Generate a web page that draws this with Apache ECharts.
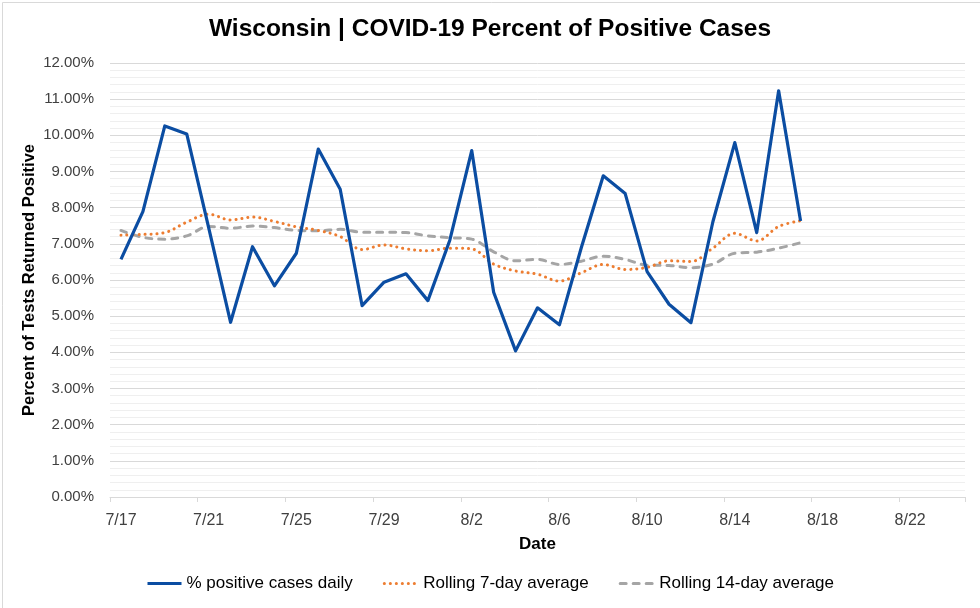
<!DOCTYPE html>
<html>
<head>
<meta charset="utf-8">
<script src="https://cdn.jsdelivr.net/npm/echarts@6/dist/echarts.min.js"></script>
<style>
html,body{margin:0;padding:0;background:#fff;}
#chart{width:980px;height:608px;}
</style>
</head>
<body>
<div id="chart"></div>
<script>
const dates = ['7/17','7/18','7/19','7/20','7/21','7/22','7/23','7/24','7/25','7/26','7/27','7/28','7/29','7/30','7/31',
  '8/1','8/2','8/3','8/4','8/5','8/6','8/7','8/8','8/9','8/10','8/11','8/12','8/13','8/14','8/15','8/16','8/17','8/18','8/19','8/20','8/21','8/22','8/23','8/24'];
const dailyPct = [6.57, 7.89, 10.26, 10.04, 7.45, 4.83, 6.92, 5.84, 6.74, 9.62, 8.51, 5.29, 5.94, 6.17, 5.43, 7.10,
  9.58, 5.66, 4.04, 5.23, 4.76, 6.90, 8.88, 8.39, 6.23, 5.33, 4.82, 7.61, 9.80, 7.31, 11.23, 7.63];
const rolling7 = [7.24, 7.26, 7.31, 7.60, 7.82, 7.66, 7.74, 7.62, 7.47, 7.37, 7.20, 6.84, 6.97, 6.86, 6.81, 6.88,
  6.86, 6.44, 6.25, 6.16, 5.97, 6.20, 6.43, 6.29, 6.35, 6.53, 6.51, 6.88, 7.29, 7.08, 7.48, 7.64];
const rolling14 = [7.37, 7.18, 7.13, 7.22, 7.48, 7.43, 7.49, 7.45, 7.37, 7.36, 7.40, 7.32, 7.32, 7.31, 7.22, 7.17,
  7.13, 6.78, 6.53, 6.57, 6.43, 6.52, 6.66, 6.57, 6.41, 6.40, 6.34, 6.44, 6.74, 6.77, 6.88, 7.03];
const seriesNames = ['% positive cases daily', 'Rolling 7-day average', 'Rolling 14-day average'];

const FONT = '"Liberation Sans", Arial, sans-serif';
const chart = echarts.init(document.getElementById('chart'), null, {renderer: 'canvas'});
chart.setOption({
  animation: false,
  backgroundColor: '#ffffff',
  graphic: [{
    type: 'rect', left: 0, top: 0, silent: true,
    shape: {x: 0.5, y: 0.5, width: 979, height: 607},
    style: {fill: 'none', stroke: '#D9D9D9', lineWidth: 1}
  }],
  title: {
    text: 'Wisconsin | COVID-19 Percent of Positive Cases',
    left: 'center', top: 12,
    textStyle: {fontFamily: FONT, fontSize: 24.5, fontWeight: 'bold', color: '#000'}
  },
  legend: {
    data: seriesNames,
    left: 'center', top: 570,
    itemWidth: 34, itemHeight: 14, itemGap: 30,
    itemStyle: {opacity: 0},
    lineStyle: {width: 3},
    textStyle: {fontFamily: FONT, fontSize: 17, color: '#000'}
  },
  grid: {left: 110, right: 15, top: 63, bottom: 111},
  xAxis: {
    type: 'category',
    data: dates,
    boundaryGap: true,
    name: 'Date',
    nameLocation: 'middle',
    nameGap: 39,
    nameTextStyle: {fontFamily: FONT, fontSize: 17, fontWeight: 'bold', color: '#000'},
    axisLine: {show: true, lineStyle: {color: '#D9D9D9', width: 1}},
    axisTick: {show: true, interval: 3, length: 5, lineStyle: {color: '#D9D9D9'}},
    axisLabel: {interval: 3, margin: 16, fontFamily: FONT, fontSize: 16, color: '#404040'},
    splitLine: {show: false}
  },
  yAxis: {
    type: 'value',
    min: 0, max: 12, interval: 1,
    name: 'Percent of Tests Returned Positive',
    nameLocation: 'middle',
    nameGap: 72,
    nameMoveOverlap: false,
    nameTextStyle: {fontFamily: FONT, fontSize: 16.5, fontWeight: 'bold', color: '#000'},
    axisLine: {show: false},
    axisTick: {show: false},
    axisLabel: {margin: 16, fontFamily: FONT, fontSize: 15, color: '#404040',
      formatter: v => v.toFixed(2) + '%'},
    splitLine: {show: true, lineStyle: {color: '#D9D9D9', width: 1}},
    minorTick: {show: false, splitNumber: 5},
    minorSplitLine: {show: true, lineStyle: {color: '#EFEFEF', width: 1}}
  },
  series: [
    {
      name: seriesNames[0], type: 'line', data: dailyPct,
      symbol: 'none', smooth: false,
      lineStyle: {color: '#0B4DA2', width: 3.2, join: 'round'},
      itemStyle: {color: '#0B4DA2'}, z: 5
    },
    {
      name: seriesNames[1], type: 'line', data: rolling7,
      symbol: 'none', smooth: 0.35,
      lineStyle: {color: '#ED7D31', width: 3, type: [0.1, 5.9], cap: 'round'},
      itemStyle: {color: '#ED7D31'}, z: 3
    },
    {
      name: seriesNames[2], type: 'line', data: rolling14,
      symbol: 'none', smooth: 0.35,
      lineStyle: {color: '#A5A5A5', width: 3, type: [6, 7], cap: 'round'},
      itemStyle: {color: '#A5A5A5'}, z: 2
    }
  ]
});
</script>
</body>
</html>
